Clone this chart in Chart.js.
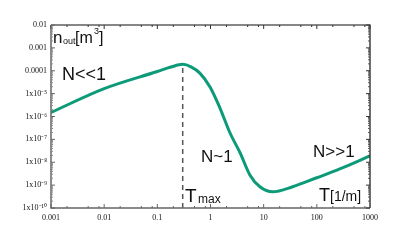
<!DOCTYPE html>
<html>
<head>
<meta charset="utf-8">
<script src="https://cdn.jsdelivr.net/npm/chart.js@4/dist/chart.umd.min.js"></script>
<style>
  html, body { margin: 0; padding: 0; background: #fff; }
  #wrap { width: 399px; height: 252px; }
</style>
</head>
<body>
<div id="wrap"><canvas id="chart" width="399" height="252"></canvas></div>
<script>
// Curve: T [1/m] against n_out [m^-3]
const tValues = [0.001, 0.01, 0.1, 0.18, 0.3, 0.43, 0.63, 0.98, 1.5, 2.33, 3.6, 5.5, 8.5, 14.8, 35, 100, 270, 1000];
const nValues = [1.5e-6, 1.66e-5, 9.3e-5, 1.45e-4, 1.9e-4, 1.48e-4, 7.9e-5, 1.95e-5, 2.4e-6, 1.9e-7, 2.6e-8, 2.8e-9, 8.5e-10, 5.1e-10, 8.5e-10, 2.1e-9, 5.1e-9, 1.9e-8];

// Position of the maximum (dashed marker)
const tMax = 0.3;
const nMax = 1.9e-4;

// Axis ticks
const xTicks = [0.001, 0.01, 0.1, 1, 10, 100, 1000];
const xTickLabels = ['0.001', '0.01', '0.1', '1', '10', '100', '1000'];
const yTicks = [1e-10, 1e-9, 1e-8, 1e-7, 1e-6, 1e-5, 1e-4, 1e-3, 1e-2];
const yTickLabels = ['1x10\u207B\u00B9\u2070', '1x10\u207B\u2079', '1x10\u207B\u2078', '1x10\u207B\u2077', '1x10\u207B\u2076', '1x10\u207B\u2075', '0.0001', '0.001', '0.01'];
const xMinor = [2, 5, 8];
const yMinor = [2, 3, 4, 5, 6, 7, 8, 9];

const tickFont = { family: 'Liberation Serif', size: 8 };

// draws the frame, inward ticks and text labels
const framePlugin = {
    id: 'frame',
    afterDatasetsDraw(chart) {
        const { ctx, chartArea: a, scales } = chart;
        const xs = scales.x, ys = scales.y;
        ctx.save();

        // top and right border
        ctx.strokeStyle = '#111';
        ctx.lineWidth = 1.2;
        ctx.beginPath();
        ctx.moveTo(a.left, a.top); ctx.lineTo(a.right, a.top); ctx.lineTo(a.right, a.bottom);
        ctx.stroke();
        // left and bottom axis
        ctx.strokeStyle = '#666';
        ctx.lineWidth = 1.5;
        ctx.beginPath();
        ctx.moveTo(a.left, a.top); ctx.lineTo(a.left, a.bottom); ctx.lineTo(a.right, a.bottom);
        ctx.stroke();

        // x ticks (bottom and top)
        ctx.lineWidth = 1;
        xTicks.forEach((v, i) => {
            const px = xs.getPixelForValue(v);
            ctx.strokeStyle = '#666';
            ctx.beginPath(); ctx.moveTo(px, a.bottom); ctx.lineTo(px, a.bottom - 4); ctx.stroke();
            ctx.strokeStyle = '#333';
            ctx.beginPath(); ctx.moveTo(px, a.top); ctx.lineTo(px, a.top + 4); ctx.stroke();
            if (i < xTicks.length - 1) {
                xMinor.forEach(m => {
                    const mx = xs.getPixelForValue(v * m);
                    ctx.strokeStyle = '#666';
                    ctx.beginPath(); ctx.moveTo(mx, a.bottom); ctx.lineTo(mx, a.bottom - 2); ctx.stroke();
                    ctx.strokeStyle = '#333';
                    ctx.beginPath(); ctx.moveTo(mx, a.top); ctx.lineTo(mx, a.top + 2); ctx.stroke();
                });
            }
        });
        // y ticks (left and right)
        yTicks.forEach((v, i) => {
            const py = ys.getPixelForValue(v);
            ctx.strokeStyle = '#666';
            ctx.beginPath(); ctx.moveTo(a.left, py); ctx.lineTo(a.left + 4, py); ctx.stroke();
            ctx.strokeStyle = '#333';
            ctx.beginPath(); ctx.moveTo(a.right, py); ctx.lineTo(a.right - 4, py); ctx.stroke();
            if (i < yTicks.length - 1) {
                yMinor.forEach(m => {
                    const my = ys.getPixelForValue(v * m);
                    ctx.strokeStyle = '#888';
                    ctx.beginPath(); ctx.moveTo(a.left, my); ctx.lineTo(a.left + 2, my); ctx.stroke();
                    ctx.strokeStyle = '#555';
                    ctx.beginPath(); ctx.moveTo(a.right, my); ctx.lineTo(a.right - 2, my); ctx.stroke();
                });
            }
        });

        // annotations
        ctx.fillStyle = '#111';
        ctx.textBaseline = 'alphabetic';
        ctx.textAlign = 'left';
        const sans = 'Liberation Sans';

        // n_out[m^3]
        ctx.font = '17px ' + sans;
        ctx.fillText('n', 53, 43);
        ctx.font = '9px ' + sans;
        ctx.fillText('out', 63, 44);
        ctx.font = '16px ' + sans;
        ctx.fillText('[m', 75, 43);
        ctx.font = '9px ' + sans;
        ctx.fillText('3', 94, 34);
        ctx.font = '16px ' + sans;
        ctx.fillText(']', 99, 43);

        ctx.font = '18px ' + sans;
        ctx.fillText('N<<1', 62, 80);
        ctx.font = '17px ' + sans;
        ctx.fillText('N~1', 201, 162);
        ctx.fillText('N>>1', 313, 157);

        // T_max
        ctx.font = '19px ' + sans;
        ctx.fillText('T', 185, 202);
        ctx.font = '12px ' + sans;
        ctx.fillText('max', 198, 203);

        // T[1/m]
        ctx.font = '18px ' + sans;
        ctx.fillText('T', 319, 201);
        ctx.font = '14px ' + sans;
        ctx.fillText('[1/m]', 330, 201);

        ctx.restore();
    }
};

new Chart(document.getElementById('chart'), {
    type: 'line',
    data: {
        datasets: [
            {
                data: tValues.map((t, i) => ({ x: t, y: nValues[i] })),
                borderColor: '#0c9a78',
                borderWidth: 3,
                pointRadius: 0,
                cubicInterpolationMode: 'monotone',
                fill: false
            },
            {
                data: [{ x: tMax, y: 1e-10 }, { x: tMax, y: nMax }],
                borderColor: '#555',
                borderWidth: 1.5,
                borderDash: [5, 4],
                pointRadius: 0,
                fill: false
            }
        ]
    },
    options: {
        responsive: false,
        animation: false,
        layout: { padding: { top: 25, right: 29, left: 0, bottom: 0 } },
        plugins: { legend: { display: false }, tooltip: { enabled: false } },
        scales: {
            x: {
                type: 'logarithmic',
                min: 0.001,
                max: 1000,
                border: { display: false },
                grid: { display: false, drawTicks: false },
                afterBuildTicks: s => { s.ticks = xTicks.map(v => ({ value: v })); },
                afterFit: s => { s.height = 44; },
                ticks: {
                    color: '#111',
                    font: tickFont,
                    padding: 5,
                    maxRotation: 0,
                    autoSkip: false,
                    callback: v => {
                        const i = xTicks.indexOf(v);
                        return i >= 0 ? xTickLabels[i] : '';
                    }
                }
            },
            y: {
                type: 'logarithmic',
                min: 1e-10,
                max: 0.01,
                border: { display: false },
                grid: { display: false, drawTicks: false },
                afterBuildTicks: s => { s.ticks = yTicks.map(v => ({ value: v })); },
                afterFit: s => { s.width = 51; },
                ticks: {
                    color: '#111',
                    font: tickFont,
                    padding: 4,
                    autoSkip: false,
                    callback: v => {
                        const i = yTicks.findIndex(t => Math.abs(Math.log10(t) - Math.log10(v)) < 1e-6);
                        return i >= 0 ? yTickLabels[i] : '';
                    }
                }
            }
        }
    },
    plugins: [framePlugin]
});
</script>
</body>
</html>
